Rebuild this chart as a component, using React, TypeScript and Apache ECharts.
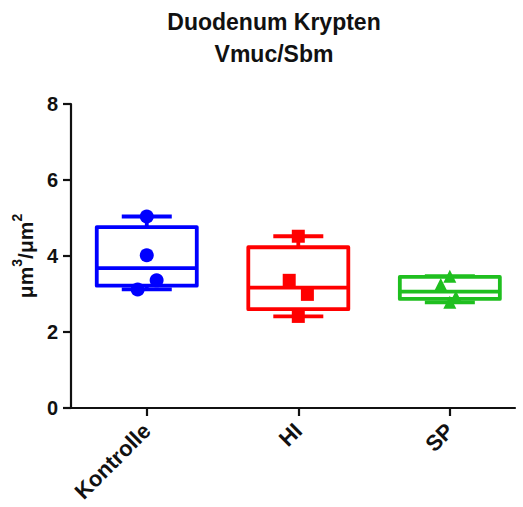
import React, { useEffect, useRef } from "react";
import * as echarts from "echarts";

const categories = ["Kontrolle", "HI", "SP"];
const yTicks = [0, 2, 4, 6, 8];

// individual values per group
const kontrolleValues = [5.04, 4.02, 3.36, 3.12];
const hiValues = [4.52, 3.36, 2.99, 2.41];
const spValues = [3.47, 3.25, 2.92, 2.78];

// horizontal scatter offsets of the points (category units)
const kontrolleJitter = [0, 0, 0.065, -0.06];
const hiJitter = [0, -0.06, 0.06, 0];
const spJitter = [0, -0.06, 0.04, 0];

// box statistics: [min, q1, median, q3, max]
const kontrolleBox = [3.12, 3.22, 3.68, 4.76, 5.04];
const hiBox = [2.41, 2.6, 3.17, 4.23, 4.52];
const spBox = [2.78, 2.87, 3.06, 3.45, 3.47];

const colors = ["#0000ff", "#ff0000", "#1fbf1f"];
const FONT = 'Arial, "Liberation Sans", Helvetica, sans-serif';

export default function App() {
  const ref = useRef<HTMLDivElement>(null);

  useEffect(() => {
    if (!ref.current) return;
    const chart = echarts.init(ref.current, undefined, { renderer: "svg" });
    const boxes = [kontrolleBox, hiBox, spBox];
    const groups = [
      { values: kontrolleValues, jitter: kontrolleJitter, symbol: "circle", size: 14 },
      { values: hiValues, jitter: hiJitter, symbol: "rect", size: 13 },
      { values: spValues, jitter: spJitter, symbol: "triangle", size: 13 },
    ];
    const halfBox = 0.33;
    const halfCap = 0.165;

    chart.setOption({
      animation: false,
      backgroundColor: "#ffffff",
      title: {
        text: "Duodenum Krypten\nVmuc/Sbm",
        left: 274,
        top: 6,
        padding: 0,
        textAlign: "center",
        textStyle: {
          fontFamily: FONT,
          fontWeight: "bold",
          fontSize: 23,
          lineHeight: 32,
          color: "#111",
        },
      },
      grid: { left: 71, right: 8, top: 104, bottom: 99, containLabel: false },
      xAxis: {
        type: "value",
        min: -0.5,
        max: 2.43,
        splitLine: { show: false },
        axisLine: { show: true, onZero: false, lineStyle: { color: "#111", width: 2.2 } },
        axisTick: {
          show: true,
          customValues: [0, 1, 2],
          length: 8,
          lineStyle: { color: "#111", width: 2.2 },
        },
        axisLabel: {
          customValues: [0, 1, 2],
          formatter: (v: number) => categories[Math.round(v)] ?? "",
          rotate: 45,
          margin: 19,
          fontFamily: FONT,
          fontWeight: "bold",
          fontSize: 22,
          color: "#111",
        },
      },
      yAxis: {
        type: "value",
        min: yTicks[0],
        max: yTicks[yTicks.length - 1],
        interval: 2,
        splitLine: { show: false },
        axisLine: { show: true, onZero: false, lineStyle: { color: "#111", width: 2.2 } },
        axisTick: { show: true, length: 8, lineStyle: { color: "#111", width: 2.2 } },
        axisLabel: {
          margin: 13,
          fontFamily: FONT,
          fontWeight: "bold",
          fontSize: 20,
          color: "#111",
        },
        name: "{b|μm}{s|3}{b|/μm}{s|2}",
        nameLocation: "middle",
        nameGap: 27,
        nameTextStyle: {
          fontFamily: FONT,
          fontWeight: "bold",
          fontSize: 21,
          color: "#111",
          rich: {
            b: {
              fontFamily: FONT,
              fontWeight: "bold",
              fontSize: 21,
              lineHeight: 26,
              verticalAlign: "bottom",
              color: "#111",
            },
            s: {
              fontFamily: FONT,
              fontWeight: "bold",
              fontSize: 14,
              lineHeight: 14,
              verticalAlign: "top",
              color: "#111",
            },
          },
        },
      },
      series: [
        {
          type: "custom",
          data: boxes.map((b, i) => [i, ...b]),
          encode: { x: 0, y: [1, 2, 3, 4, 5] },
          z: 2,
          renderItem: (params: any, api: any) => {
            const x = api.value(0);
            const min = api.value(1);
            const q1 = api.value(2);
            const med = api.value(3);
            const q3 = api.value(4);
            const max = api.value(5);
            const color = colors[params.dataIndex];
            const tl = api.coord([x - halfBox, q3]);
            const br = api.coord([x + halfBox, q1]);
            const mL = api.coord([x - halfBox, med]);
            const mR = api.coord([x + halfBox, med]);
            const c = api.coord([x, max]);
            const cTop = api.coord([x, q3]);
            const cBot = api.coord([x, q1]);
            const cMin = api.coord([x, min]);
            const capTL = api.coord([x - halfCap, max]);
            const capTR = api.coord([x + halfCap, max]);
            const capBL = api.coord([x - halfCap, min]);
            const capBR = api.coord([x + halfCap, min]);
            const st = { stroke: color, lineWidth: 3.8, fill: "none" };
            return {
              type: "group",
              children: [
                {
                  type: "rect",
                  shape: { x: tl[0], y: tl[1], width: br[0] - tl[0], height: br[1] - tl[1] },
                  style: { ...st, lineJoin: "round" },
                },
                { type: "line", shape: { x1: mL[0], y1: mL[1], x2: mR[0], y2: mR[1] }, style: st },
                { type: "line", shape: { x1: cTop[0], y1: cTop[1], x2: c[0], y2: c[1] }, style: st },
                { type: "line", shape: { x1: cBot[0], y1: cBot[1], x2: cMin[0], y2: cMin[1] }, style: st },
                { type: "line", shape: { x1: capTL[0], y1: capTL[1], x2: capTR[0], y2: capTR[1] }, style: st },
                { type: "line", shape: { x1: capBL[0], y1: capBL[1], x2: capBR[0], y2: capBR[1] }, style: st },
              ],
            };
          },
        },
        ...groups.map((g, gi) => ({
          type: "scatter",
          z: 3,
          symbol: g.symbol,
          symbolSize: g.size,
          itemStyle: { color: colors[gi], opacity: 1 },
          data: g.values.map((v, i) => [gi + g.jitter[i], v]),
        })),
      ],
    });
    return () => chart.dispose();
  }, []);

  return (
    <div
      ref={ref}
      style={{ position: "absolute", left: 0, top: 0, width: 523, height: 507 }}
    />
  );
}
